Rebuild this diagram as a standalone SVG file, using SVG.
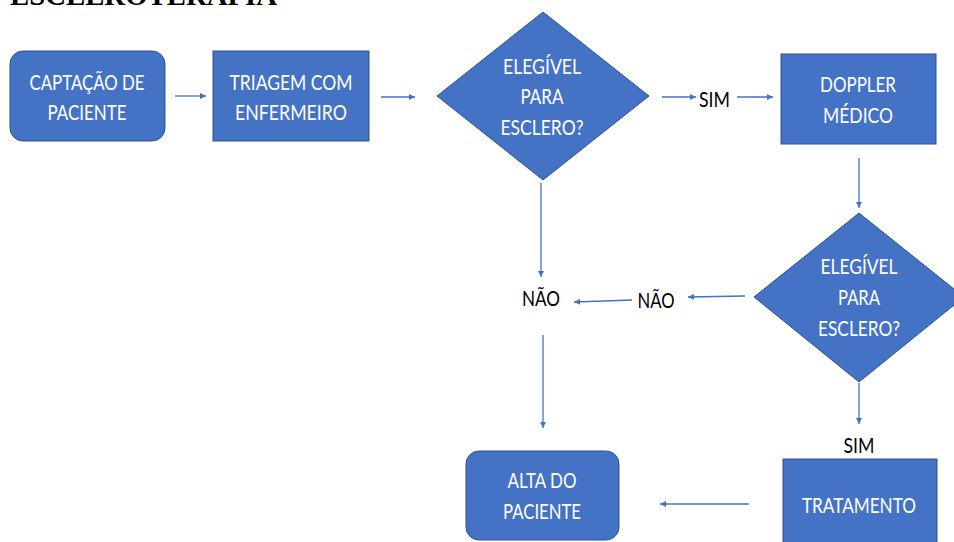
<svg xmlns="http://www.w3.org/2000/svg" width="954" height="542" viewBox="0 0 954 542">
<style>
.shape{fill:#4472C4;stroke:#2F528F;stroke-width:1}
.wt{fill:#ffffff;font-family:Lato,"Open Sans","Liberation Sans",sans-serif;font-size:22px;text-anchor:middle}
.bt{fill:#000000;font-family:Lato,"Open Sans","Liberation Sans",sans-serif;font-size:22px;text-anchor:middle}
.title{fill:#000000;font-family:"Liberation Serif","Times New Roman",serif;font-weight:bold;font-size:29px}
.conn line{stroke:#4472C4;stroke-width:1.3;fill:none;marker-end:url(#ah)}
</style>
<defs>
<marker id="ah" viewBox="0 0 10 10" refX="10" refY="5" markerWidth="6" markerHeight="6" markerUnits="userSpaceOnUse" orient="auto">
<path d="M0,0 L10,5 L0,10 z" fill="#4472C4"/>
</marker>
</defs>
<rect width="954" height="542" fill="#ffffff"/>
<text class="title" x="10" y="5" textLength="267" lengthAdjust="spacingAndGlyphs">ESCLEROTERAPIA</text>

<g id="captacao">
<rect class="shape" x="10" y="51" width="155" height="90" rx="13" ry="13"/>
<text class="wt" x="87" y="90" textLength="115" lengthAdjust="spacingAndGlyphs">CAPTAÇÃO DE</text>
<text class="wt" x="87" y="120" textLength="79" lengthAdjust="spacingAndGlyphs">PACIENTE</text>
</g>
<g id="triagem">
<rect class="shape" x="213" y="51" width="156" height="90"/>
<text class="wt" x="291" y="90" textLength="123" lengthAdjust="spacingAndGlyphs">TRIAGEM COM</text>
<text class="wt" x="291" y="120" textLength="112" lengthAdjust="spacingAndGlyphs">ENFERMEIRO</text>
</g>
<g id="elegivel1">
<polygon class="shape" points="543,12 649,96 543,180 437,96"/>
<text class="wt" x="542" y="74" textLength="78" lengthAdjust="spacingAndGlyphs">ELEGÍVEL</text>
<text class="wt" x="542" y="104" textLength="43" lengthAdjust="spacingAndGlyphs">PARA</text>
<text class="wt" x="542" y="135" textLength="83" lengthAdjust="spacingAndGlyphs">ESCLERO?</text>
</g>
<g id="sim1">
<text class="bt" x="714.5" y="107" textLength="31" lengthAdjust="spacingAndGlyphs">SIM</text>
</g>
<g id="doppler">
<rect class="shape" x="781" y="54" width="155" height="90"/>
<text class="wt" x="858" y="92" textLength="76" lengthAdjust="spacingAndGlyphs">DOPPLER</text>
<text class="wt" x="858" y="123" textLength="70" lengthAdjust="spacingAndGlyphs">MÉDICO</text>
</g>
<g id="elegivel2">
<polygon class="shape" points="859,213 964,297 859,382 754,297"/>
<text class="wt" x="859" y="274" textLength="77" lengthAdjust="spacingAndGlyphs">ELEGÍVEL</text>
<text class="wt" x="859" y="305" textLength="42" lengthAdjust="spacingAndGlyphs">PARA</text>
<text class="wt" x="859" y="336" textLength="82" lengthAdjust="spacingAndGlyphs">ESCLERO?</text>
</g>
<g id="nao2">
<text class="bt" x="656" y="308" textLength="37" lengthAdjust="spacingAndGlyphs">NÃO</text>
</g>
<g id="nao1">
<text class="bt" x="541" y="306" textLength="38" lengthAdjust="spacingAndGlyphs">NÃO</text>
</g>
<g id="sim2">
<text class="bt" x="859" y="453" textLength="31" lengthAdjust="spacingAndGlyphs">SIM</text>
</g>
<g id="tratamento">
<rect class="shape" x="783" y="459" width="154" height="92"/>
<text class="wt" x="859" y="513" textLength="114" lengthAdjust="spacingAndGlyphs">TRATAMENTO</text>
</g>
<g id="alta">
<rect class="shape" x="466" y="451" width="153" height="89" rx="13" ry="13"/>
<text class="wt" x="542" y="488" textLength="69" lengthAdjust="spacingAndGlyphs">ALTA DO</text>
<text class="wt" x="542" y="519" textLength="78" lengthAdjust="spacingAndGlyphs">PACIENTE</text>
</g>

<g id="connectors" class="conn">
<line x1="175" y1="96" x2="206" y2="96"/>
<line x1="381" y1="97" x2="415" y2="97"/>
<line x1="662" y1="97" x2="696" y2="97"/>
<line x1="737" y1="97" x2="773" y2="97"/>
<line x1="859" y1="158" x2="859" y2="208"/>
<line x1="541" y1="183" x2="541" y2="277"/>
<line x1="745" y1="296" x2="688" y2="297"/>
<line x1="632" y1="300" x2="574" y2="302"/>
<line x1="543" y1="335" x2="543" y2="428"/>
<line x1="859" y1="383" x2="859" y2="424"/>
<line x1="749" y1="504" x2="660" y2="504"/>
</g>
</svg>
